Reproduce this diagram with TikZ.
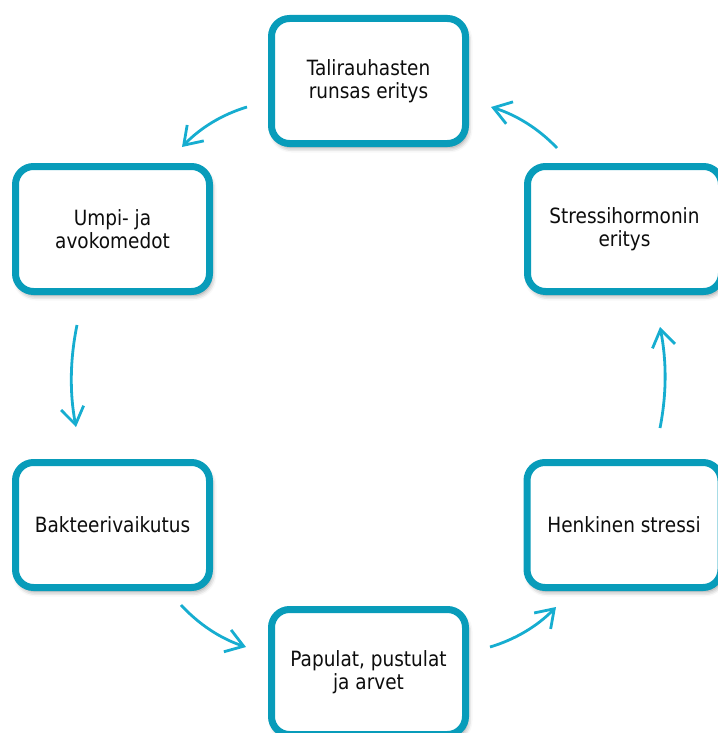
\documentclass[tikz,border=0pt]{standalone}
\usepackage{fontspec}
\setmainfont{DejaVu Sans}[FakeStretch=0.88]
\usetikzlibrary{arrows.meta,shadows.blur}
\definecolor{boxteal}{RGB}{8,156,186}
\definecolor{arrowcyan}{RGB}{22,173,208}
\tikzset{
  cyclebox/.style={draw=boxteal, line width=7pt, fill=white, rounded corners=18pt,
    minimum width=194pt, minimum height=125pt, inner sep=0pt, align=center,
    font=\fontsize{21}{23.5}\selectfont, text=black!95,
    blur shadow={shadow xshift=2pt, shadow yshift=-4pt, shadow blur radius=5pt, shadow opacity=45}},
  cyclearrow/.style={draw=arrowcyan, line width=2.8pt,
    -{Straight Barb[length=17pt,width=23pt,line width=2.8pt]}}
}
\begin{document}
\begin{tikzpicture}[x=1pt,y=-1pt]
\useasboundingbox (0,0) rectangle (717,733);
\node[cyclebox] (T)  at (368.5,81)  {Talirauhasten\\runsas eritys};
\node[cyclebox] (UL) at (112.5,229) {Umpi- ja\\avokomedot};
\node[cyclebox] (UR) at (624.5,229) {Stressihormonin\\eritys};
\node[cyclebox] (LL) at (112.5,525) {Bakteerivaikutus};
\node[cyclebox] (LR) at (624,525)   {Henkinen stressi};
\node[cyclebox] (B)  at (368.5,672) {Papulat, pustulat\\ja arvet};

\coordinate (a1s) at (247,107); \coordinate (a1e) at (182,147);
\coordinate (a2s) at (77,325);  \coordinate (a2e) at (76,427);
\coordinate (a3s) at (181,605); \coordinate (a3e) at (246,647);
\coordinate (a4s) at (490,647); \coordinate (a4e) at (556,607);
\coordinate (a5s) at (660,428); \coordinate (a5e) at (660,327);
\coordinate (a6s) at (557,148); \coordinate (a6e) at (491,107);

\draw[cyclearrow] (a1s) .. controls (221.8,114.6) and (200.2,128) .. (a1e);
\draw[cyclearrow] (a2s) .. controls (70,359) and (69.5,393) .. (a2e);
\draw[cyclearrow] (a3s) .. controls (199.1,624.6) and (220.7,638.6) .. (a3e);
\draw[cyclearrow] (a4s) .. controls (515.5,639.4) and (537.5,626) .. (a4e);
\draw[cyclearrow] (a5s) .. controls (666.7,394) and (666.7,361) .. (a5e);
\draw[cyclearrow] (a6s) .. controls (538.5,128.6) and (516.5,115) .. (a6e);
\end{tikzpicture}
\end{document}
